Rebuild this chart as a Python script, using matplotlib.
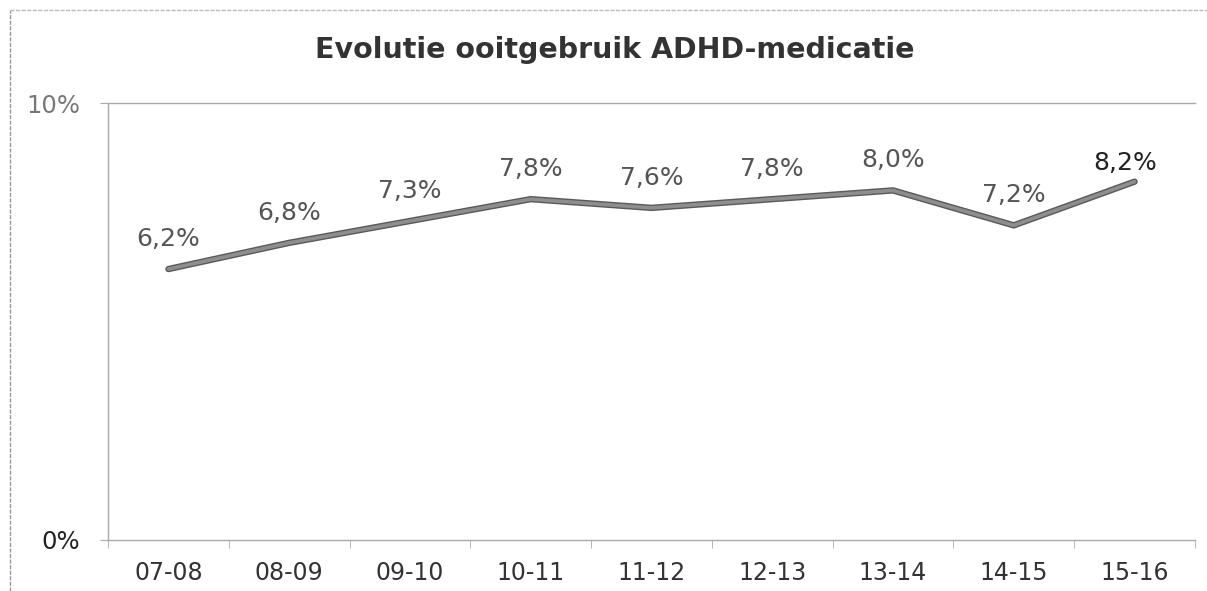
import matplotlib.pyplot as plt

years = ["07-08", "08-09", "09-10", "10-11", "11-12", "12-13", "13-14", "14-15", "15-16"]
values = [6.2, 6.8, 7.3, 7.8, 7.6, 7.8, 8.0, 7.2, 8.2]
labels = ["6,2%", "6,8%", "7,3%", "7,8%", "7,6%", "7,8%", "8,0%", "7,2%", "8,2%"]

fig = plt.figure(figsize=(12.07, 5.91), dpi=100)
ax = fig.add_axes([0.0895, 0.0863, 0.9005, 0.7394])

x = list(range(len(years)))
ax.plot(x, values, color="#5a5a5a", linewidth=4.6, solid_capstyle="round", zorder=3)
ax.plot(x, values, color="#8e8e8e", linewidth=2.6, solid_capstyle="round", zorder=4)

for i, (v, lab) in enumerate(zip(values, labels)):
    if i == len(values) - 1:
        # last label sits closer to the line and slightly to the left
        ax.annotate(lab, (i, v), xytext=(-7, 5), textcoords="offset points",
                    ha="center", va="bottom", fontsize=18, color="#222222")
    else:
        ax.annotate(lab, (i, v), xytext=(0, 13), textcoords="offset points",
                    ha="center", va="bottom", fontsize=18, color="#555555")

ax.set_xlim(-0.5, len(years) - 0.5)
ax.set_ylim(0, 10)
ax.set_xticks(x)
ax.set_xticklabels(years, fontsize=17, color="#333333")
ax.tick_params(axis="x", which="major", length=0, pad=15)
ax.set_xticks([i - 0.5 for i in range(len(years) + 1)], minor=True)
ax.tick_params(axis="x", which="minor", length=6, color="#aaaaaa", direction="out")
ax.set_yticks([0, 10])
ax.set_yticklabels(["0%", "10%"], fontsize=17.5)
ax.get_yticklabels()[0].set_color("#222222")
ax.get_yticklabels()[1].set_color("#777777")
ax.tick_params(axis="y", length=6, color="#aaaaaa", pad=14)

ax.spines["right"].set_visible(False)
for side in ["left", "top", "bottom"]:
    ax.spines[side].set_color("#aaaaaa")
    ax.spines[side].set_linewidth(1.0)
    ax.spines[side].set_linestyle((0, (4, 1)))

fig.text(0.509, 0.915, "Evolutie ooitgebruik ADHD-medicatie", ha="center", va="center",
         fontsize=20.5, fontweight="bold", color="#333333")

# outer frame of the original chart box (only left and top are visible)
fig.add_artist(plt.Line2D([0.008, 0.008], [0, 0.983], color="#999999", linewidth=1.0,
                          linestyle=(0, (3, 1))))
fig.add_artist(plt.Line2D([0.008, 1.0], [0.983, 0.983], color="#bbbbbb", linewidth=1.0,
                          linestyle=(0, (3, 1))))

fig.savefig("out.png", dpi=100)
